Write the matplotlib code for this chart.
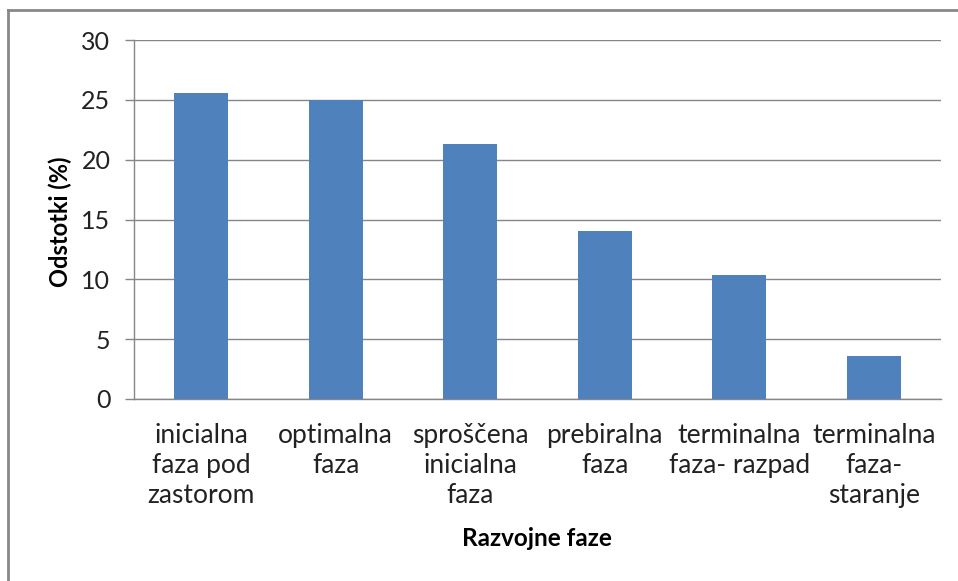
import matplotlib
matplotlib.use("Agg")
import matplotlib.pyplot as plt
from matplotlib.lines import Line2D

categories = ["inicialna\nfaza pod\nzastorom", "optimalna\nfaza", "sproščena\ninicialna\nfaza",
              "prebiralna\nfaza", "terminalna\nfaza- razpad", "terminalna\nfaza-\nstaranje"]
values = [25.6, 25.0, 21.3, 14.0, 10.4, 3.6]
yticks = [0, 5, 10, 15, 20, 25, 30]

plt.rcParams['font.family'] = ['Lato', 'DejaVu Sans']

W, H = 958, 581
fig = plt.figure(figsize=(W / 100, H / 100), dpi=100)
ax = fig.add_axes([134 / W, 1 - 399 / H, (941 - 134) / W, (399 - 40) / H])

x = list(range(len(categories)))
ax.bar(x, values, width=0.4, color='#4F81BD', zorder=3)
ax.set_xlim(-0.5, len(categories) - 0.5)
ax.set_ylim(0, 30)
ax.set_yticks(yticks)
ax.set_yticklabels([str(t) for t in yticks], fontsize=18, color='#222222')
ax.set_xticks(x)
ax.set_xticklabels(categories, fontsize=19, color='#222222', linespacing=1.25)
ax.tick_params(axis='x', length=0, pad=17)
ax.tick_params(axis='y', length=6.5, width=1, color='#868686', pad=10.5)
ax.grid(axis='y', color='#868686', lw=1, zorder=0)
for s in ['top', 'right']:
    ax.spines[s].set_visible(False)
for s in ['left', 'bottom']:
    ax.spines[s].set_color('#868686')
    ax.spines[s].set_linewidth(1)

fig.text(60 / W, 1 - 222 / H, 'Odstotki (%)', fontsize=17, fontweight='bold', rotation=90,
         ha='center', va='center')
fig.text(537 / W, 1 - 538 / H, 'Razvojne faze', fontsize=17.5, fontweight='bold', ha='center', va='center')

# outer chart border (Excel chart area)
fig.add_artist(Line2D([8 / W, 8 / W], [0, 1 - 10 / H], transform=fig.transFigure, color='#888888', lw=2))
fig.add_artist(Line2D([8 / W, 1], [1 - 10 / H, 1 - 10 / H], transform=fig.transFigure, color='#888888', lw=2))

fig.savefig('out.png', dpi=100)
